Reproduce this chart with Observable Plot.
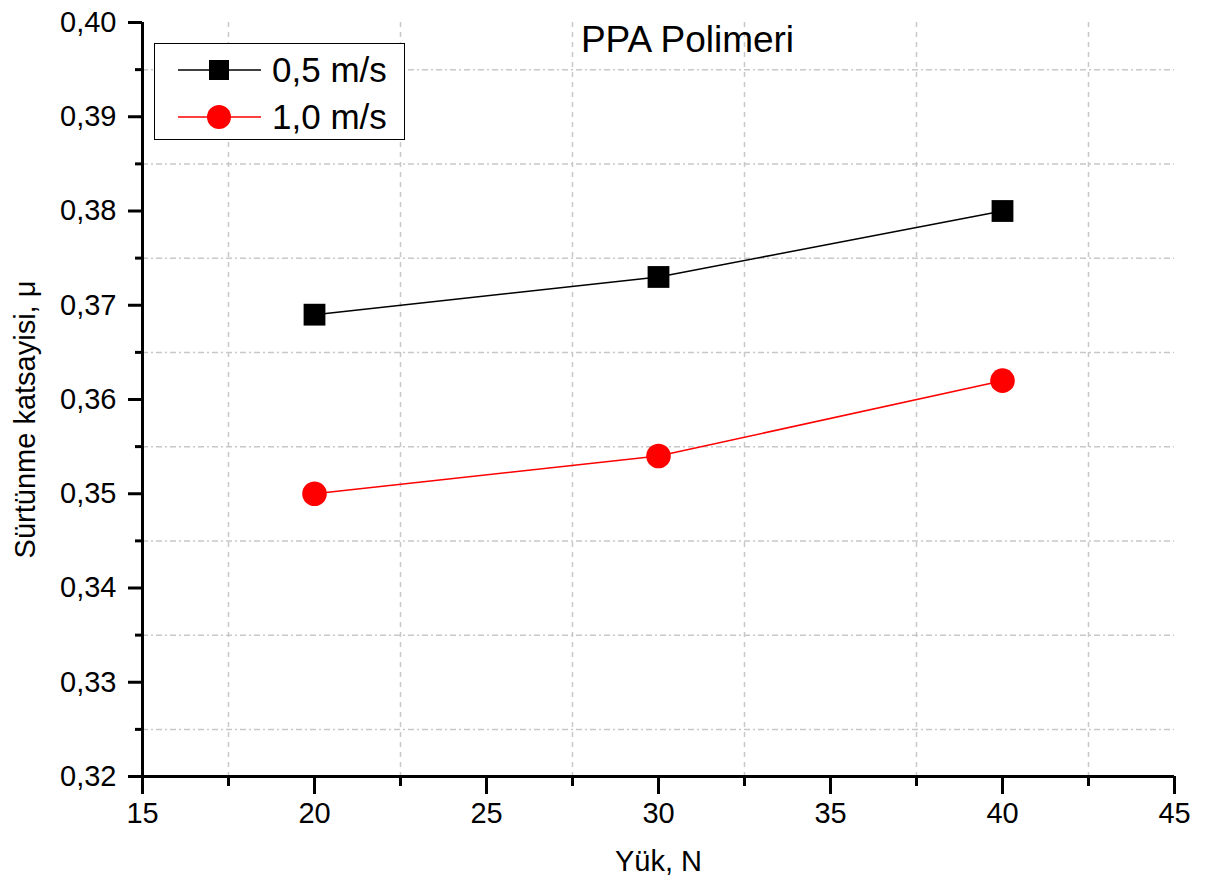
<!DOCTYPE html>
<html><head><meta charset="utf-8">
<script src="https://cdn.jsdelivr.net/npm/d3@7"></script>
<script src="https://cdn.jsdelivr.net/npm/@observablehq/plot@0.6"></script>
<style>
body{margin:0;background:#fff;}
#wrap{position:relative;width:1206px;height:893px;font-family:"Liberation Sans",Arial,sans-serif;}
#legend{position:absolute;left:154px;top:43px;width:249px;height:95px;border:1.5px solid #000;background:#fff;}
</style>
</head><body><div id="wrap"></div>
<script>
const loads = [20, 30, 40];
const cof05 = [0.369, 0.373, 0.380];
const cof10 = [0.350, 0.354, 0.362];
const seriesNames = ["0,5 m/s", "1,0 m/s"];
const seriesColors = ["#000000", "#ff0000"];
const seriesSymbols = ["square", "circle"];
const xDomain = [15, 45];
const yDomain = [0.32, 0.40];
const xTicks = [15, 20, 25, 30, 35, 40, 45];
const xMinor = [17.5, 22.5, 27.5, 32.5, 37.5, 42.5];
const yTicks = [0.32, 0.33, 0.34, 0.35, 0.36, 0.37, 0.38, 0.39, 0.40];
const yMinor = [0.325, 0.335, 0.345, 0.355, 0.365, 0.375, 0.385, 0.395];
const title = "PPA Polimeri";
const xLabel = "Yük, N";
const yLabel = "Sürtünme katsayisi, μ";

const seriesValues = [cof05, cof10];
const data = [];
seriesNames.forEach((s, i) => loads.forEach((l, j) => data.push({series: s, load: l, cof: seriesValues[i][j]})));

const fmt = d => d.toFixed(2).replace(".", ",");

const chart = Plot.plot({
  width: 1206, height: 893,
  marginLeft: 142, marginRight: 32, marginTop: 22, marginBottom: 117,
  style: {fontFamily: "'Liberation Sans', Arial, sans-serif", background: "white", color: "black"},
  x: {domain: xDomain, axis: null},
  y: {domain: yDomain, axis: null},
  color: {domain: seriesNames, range: seriesColors},
  symbol: {domain: seriesNames, range: seriesSymbols},
  marks: [
    Plot.ruleX(xMinor, {stroke: "#c8c8c8", strokeWidth: 1.5, strokeDasharray: "5,5"}),
    Plot.ruleY(yMinor, {stroke: "#c8c8c8", strokeWidth: 1.5, strokeDasharray: "6,3,2,3"}),
    Plot.line(data, {x: "load", y: "cof", z: "series", stroke: "series", strokeWidth: 1.5}),
    Plot.dot(data, {x: "load", y: "cof", symbol: "series", fill: "series", stroke: "none", r: 12.3}),
    Plot.axisX(xTicks, {tickSize: 18, tickPadding: 8, fontSize: 29, strokeWidth: 3, label: null, tickFormat: d => String(d)}),
    Plot.axisX(xMinor, {tickSize: 10, strokeWidth: 3, text: null, label: null}),
    Plot.axisY(yTicks, {tickSize: 14, tickPadding: 12, fontSize: 29, strokeWidth: 3, label: null, tickFormat: fmt}),
    Plot.axisY(yMinor, {tickSize: 7, strokeWidth: 3, text: null, label: null}),
    Plot.ruleX([xDomain[0]], {strokeWidth: 3}),
    Plot.ruleY([yDomain[0]], {strokeWidth: 3}),
    Plot.text([title], {frameAnchor: "top", dx: 29, dy: 18, fontSize: 37, lineAnchor: "middle", textAnchor: "middle"}),
    Plot.text([xLabel], {frameAnchor: "bottom", dy: 94, fontSize: 29, textAnchor: "middle"}),
    Plot.text([yLabel], {frameAnchor: "left", rotate: -90, dx: -117, dy: 20, fontSize: 29, textAnchor: "middle"})
  ]
});
const wrap = document.getElementById("wrap");
wrap.appendChild(chart);

// legend
const leg = document.createElement("div");
leg.id = "legend";
const ns = "http://www.w3.org/2000/svg";
const svg = document.createElementNS(ns, "svg");
svg.setAttribute("width", 249); svg.setAttribute("height", 95);
seriesNames.forEach((s, i) => {
  const cy = 26 + i * 47;
  const ln = document.createElementNS(ns, "line");
  ln.setAttribute("x1", 23); ln.setAttribute("x2", 106);
  ln.setAttribute("y1", cy); ln.setAttribute("y2", cy);
  ln.setAttribute("stroke", seriesColors[i]); ln.setAttribute("stroke-width", 1.5);
  svg.appendChild(ln);
  let m;
  if (seriesSymbols[i] === "square") {
    m = document.createElementNS(ns, "rect");
    m.setAttribute("x", 54); m.setAttribute("y", cy - 10);
    m.setAttribute("width", 20); m.setAttribute("height", 20);
  } else {
    m = document.createElementNS(ns, "circle");
    m.setAttribute("cx", 64); m.setAttribute("cy", cy); m.setAttribute("r", 12);
  }
  m.setAttribute("fill", seriesColors[i]);
  svg.appendChild(m);
  const t = document.createElementNS(ns, "text");
  t.setAttribute("x", 117); t.setAttribute("y", cy);
  t.setAttribute("dy", "0.35em");
  t.setAttribute("font-size", 35);
  t.setAttribute("font-family", "'Liberation Sans', Arial, sans-serif");
  t.textContent = s;
  svg.appendChild(t);
});
leg.appendChild(svg);
wrap.appendChild(leg);
</script>
</body></html>
